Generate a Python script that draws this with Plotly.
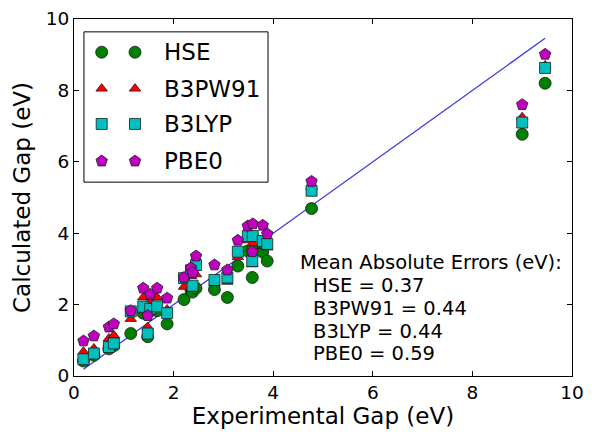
import plotly.graph_objects as go

# Experimental gaps (eV) and calculated gaps per functional
exp_gap = [0.19, 0.40, 0.70, 0.80, 1.14, 1.39, 1.48, 1.53, 1.67, 1.87,
           2.21, 2.35, 2.38, 2.45, 2.82, 3.08, 3.29, 3.49, 3.59, 3.58,
           3.79, 3.88, 4.77, 9.00, 9.46]
hse = [0.42, 0.58, 0.76, 0.85, 1.19, 1.76, 1.10, 1.82, 1.83, 1.46,
       2.14, 2.39, 2.35, 2.46, 2.42, 2.20, 3.08, 3.50, 3.55, 2.76,
       3.47, 3.22, 4.69, 6.77, 8.20]
b3pw91 = [0.68, 0.77, 1.05, 1.14, 1.60, 2.20, 1.37, 2.10, 2.20, 1.86,
          2.50, 2.80, 2.45, 2.85, 2.60, 2.64, 3.33, 3.80, 3.72, 3.13,
          3.65, 3.60, 5.30, 7.25, 8.70]
b3lyp = [0.47, 0.63, 0.81, 0.91, 1.81, 1.94, 1.19, 1.88, 1.95, 1.76,
         2.74, 2.96, 2.53, 3.11, 2.69, 2.76, 3.48, 3.92, 3.92, 3.22,
         3.78, 3.70, 5.19, 7.10, 8.63]
pbe0 = [0.98, 1.12, 1.37, 1.46, 1.83, 2.46, 1.69, 2.29, 2.46, 2.18,
        2.76, 3.03, 2.90, 3.36, 3.11, 2.97, 3.80, 4.20, 4.26, 3.48,
        4.22, 3.98, 5.45, 7.60, 9.01]

names = ["HSE", "B3PW91", "B3LYP", "PBE0"]
mae_title = "Mean Absolute Errors (eV):"
mae_text = ["HSE = 0.37", "B3PW91 = 0.44", "B3LYP = 0.44", "PBE0 = 0.59"]

series = [hse, b3pw91, b3lyp, pbe0]
colors = ["#008000", "#ff0000", "#00bfbf", "#bf00bf"]
symbols = ["circle", "triangle-up", "square", "pentagon"]
sizes = [12, 10, 11, 12]

FONT = "DejaVu Sans"
fig = go.Figure()

# y = x reference line over the experimental range
lo, hi = min(exp_gap), max(exp_gap)
fig.add_trace(go.Scatter(x=[lo, hi], y=[lo, hi], mode="lines",
                         line=dict(color="#3a3ae0", width=1.3),
                         showlegend=False, hoverinfo="skip"))

for vals, col, sym, sz, nm in zip(series, colors, symbols, sizes, names):
    fig.add_trace(go.Scatter(x=exp_gap, y=vals, mode="markers", name=nm,
                             marker=dict(color=col, symbol=sym, size=sz,
                                         line=dict(color="#1a1a1a", width=0.8)),
                             showlegend=False))

# Custom legend (two markers per entry, like matplotlib numpoints=2)
leg_x = [0.0556, 0.1225]
leg_y = [0.907, 0.805, 0.706, 0.602]
for i, (col, sym, sz, nm) in enumerate(zip(colors, symbols, sizes, names)):
    fig.add_trace(go.Scatter(x=leg_x, y=[leg_y[i]] * 2, mode="markers",
                             xaxis="x2", yaxis="y2",
                             marker=dict(color=col, symbol=sym, size=sz,
                                         line=dict(color="#1a1a1a", width=0.8)),
                             showlegend=False, hoverinfo="skip"))
    fig.add_annotation(x=0.176, y=leg_y[i], xref="paper", yref="paper",
                       text=nm, showarrow=False, xanchor="left", yanchor="middle",
                       font=dict(family=FONT, size=23, color="black"))

fig.add_shape(type="rect", xref="paper", yref="paper",
              x0=0.020, x1=0.3896, y0=0.543, y1=0.964,
              line=dict(color="black", width=1), fillcolor="rgba(0,0,0,0)")

# MAE text block
fig.add_annotation(x=0.4498, y=0.318, xref="paper", yref="paper",
                   text=mae_title, showarrow=False,
                   xanchor="left", yanchor="middle",
                   font=dict(family=FONT, size=19.5, color="black"))
mae_y = [0.254, 0.190, 0.126, 0.062]
for t, yy in zip(mae_text, mae_y):
    fig.add_annotation(x=0.476, y=yy, xref="paper", yref="paper", text=t,
                       showarrow=False, xanchor="left", yanchor="middle",
                       font=dict(family=FONT, size=19.5, color="black"))

axis_common = dict(showgrid=False, zeroline=False, showline=True,
                   linecolor="black", linewidth=1, mirror="allticks",
                   ticks="inside", ticklen=5, tickcolor="black",
                   automargin=False, ticklabeloverflow="allow",
                   tickfont=dict(family=FONT, size=18.5, color="black"))

# the page body adds an 8 px offset, so the figure is sized to fill the view
fig.update_layout(
    template="none",
    width=590, height=424,
    margin=dict(l=66, r=26, t=11, b=56),
    plot_bgcolor="white", paper_bgcolor="white",
    showlegend=False,
    xaxis=dict(range=[0, 10], tickvals=[0, 2, 4, 6, 8, 10],
               title=dict(text="Experimental Gap (eV)", standoff=4,
                          font=dict(family=FONT, size=23, color="black")),
               **axis_common),
    yaxis=dict(range=[0, 10], tickvals=[0, 2, 4, 6, 8, 10],
               title=dict(text="Calculated Gap (eV)", standoff=8,
                          font=dict(family=FONT, size=23, color="black")),
               **axis_common),
    xaxis2=dict(range=[0, 1], domain=[0, 1], overlaying="x", visible=False,
                fixedrange=True),
    yaxis2=dict(range=[0, 1], domain=[0, 1], overlaying="y", visible=False,
                fixedrange=True),
)

fig.write_html("out.html")
